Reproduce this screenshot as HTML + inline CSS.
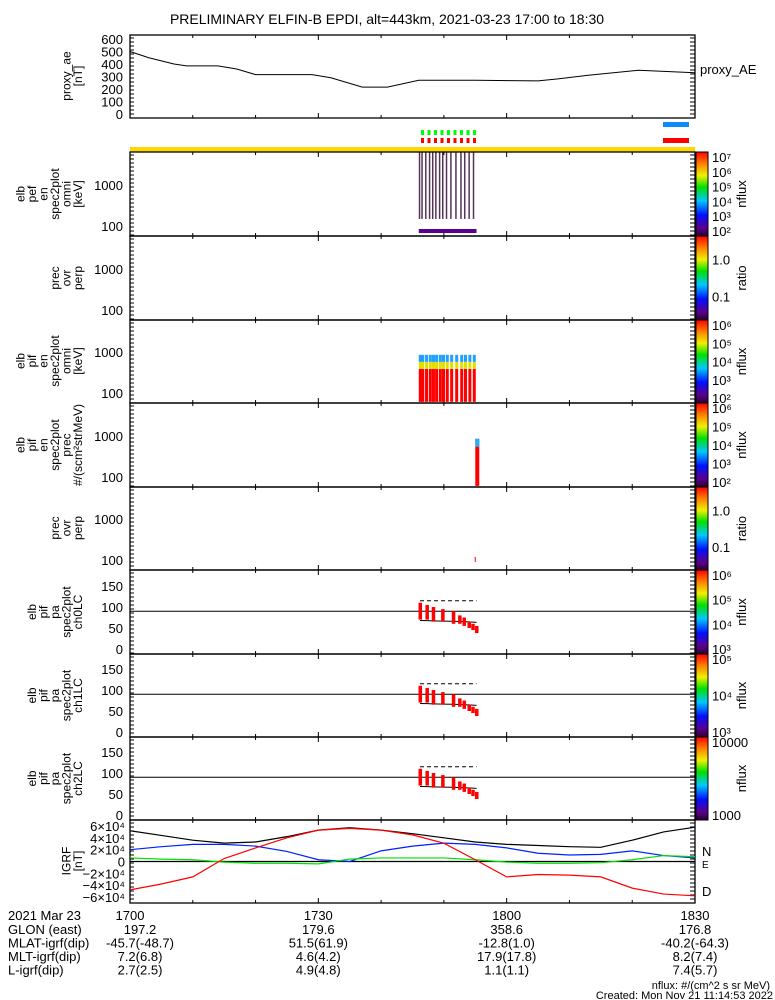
<!DOCTYPE html>
<html><head><meta charset="utf-8"><style>
body{margin:0;background:#fff}
svg{display:block;font-family:"Liberation Sans",sans-serif}
text{fill:#000}
</style></head><body>
<svg id="s" width="775" height="1000" viewBox="0 0 775 1000">
<defs>
<linearGradient id="rb" x1="0" y1="1" x2="0" y2="0">
<stop offset="0" stop-color="#2a0030"/><stop offset="0.1" stop-color="#5a0090"/><stop offset="0.25" stop-color="#0010ff"/><stop offset="0.42" stop-color="#00c8ff"/><stop offset="0.58" stop-color="#00e000"/><stop offset="0.72" stop-color="#f0f000"/><stop offset="0.86" stop-color="#ff8000"/><stop offset="1" stop-color="#ff0000"/>
</linearGradient>
</defs>
<text x="387" y="24" text-anchor="middle" font-size="14">PRELIMINARY ELFIN-B EPDI, alt=443km, 2021-03-23 17:00 to 18:30</text>
</svg>
<script>
const NS="http://www.w3.org/2000/svg";const S=document.getElementById('s');
function el(t,a,p){const e=document.createElementNS(NS,t);for(const k in a)e.setAttribute(k,a[k]);(p||S).appendChild(e);return e;}
function tx(x,y,s,a,p){const e=el('text',Object.assign({x:x,y:y,'font-size':13},a||{}),p);e.textContent=s;return e;}

// data
const aeTimes=[0,3,7,9,14,17,20,29,32,37,41,46,55,65,68,73,79,81,90];
const aeVals=[500,450,400,385,385,360,315,315,290,215,215,270,270,265,280,310,340,350,330];
const igrfTimes=[0,5,10,15,20,25,30,35,40,45,50,55,60,65,70,75,80,85,90];
const igrfBlack=[52000,44000,36000,31000,33000,42000,53000,57000,53000,47000,40000,33000,29000,27000,25000,24000,36000,50000,58000];
const igrfBlue=[20000,25000,29000,29000,26000,17000,3000,0,18000,26000,31000,29000,23000,14000,11000,12000,18000,10000,6000];
const igrfGreen=[6000,4000,3000,-1000,-3000,-3000,-4000,4000,6000,6000,6000,3000,-1000,-3000,-3000,-2000,3000,10000,8000];
const igrfRed=[-48000,-38000,-26000,5000,23000,40000,53000,56000,53000,45000,31000,3000,-26000,-22000,-23000,-26000,-45000,-55000,-58000];
const bottomTicks=['1700','1730','1800','1830'];
const paTimes=[46.2,47.3,48.3,49.8,51.5,52.5,53.2,54.0,54.6,55.2];
const paHigh=[110,105,100,95,90,80,75,65,60,55];
const paLow=[70,70,65,65,60,60,55,50,45,38];
const efBars=[46.0,46.4,47.0,47.6,48.1,48.6,49.2,49.7,50.3,51.0,51.8,52.6,53.2,53.9,54.6];

const X0=130,X1=695;const tX=t=>X0+t/90*(X1-X0);

function frame(y0,y1,name){
  el('rect',{x:X0,y:y0,width:X1-X0,height:y1-y0,fill:'none',stroke:'#000','stroke-width':1.3,});
  for(let t=0;t<=90;t+=10){const x=tX(t);const L=t%30==0?5:3;
    el('line',{x1:x,y1:y1,x2:x,y2:y1-L,stroke:'#000'});el('line',{x1:x,y1:y0,x2:x,y2:y0+L,stroke:'#000'});}
  for(let y=y0+3;y<y1;y+=4){el('line',{x1:X1,y1:y,x2:X1-5,y2:y,stroke:'#000'});el('line',{x1:X0,y1:y,x2:X0+4,y2:y,stroke:'#000'});}
}
function vlabel(lines,yc,name){const g=el('g',{});
  const n=lines.length;lines.forEach((s,i)=>{const x=82-(n-1-i)*11.5;tx(x,yc,s,{transform:`rotate(-90 ${x} ${yc})`,'text-anchor':'middle','font-size':12},g);});}
function cbar(y0,y1,labels,title,name){
  el('rect',{x:696,y:y0,width:12,height:y1-y0,fill:'url(#rb)',stroke:'#000',});
  labels.forEach((s,i)=>{const y=y0+6+i*(y1-y0-10)/(Math.max(labels.length-1,1));tx(712,y+4,s,{'font-size':13});});
  const yc=(y0+y1)/2;tx(746,yc,title,{transform:`rotate(-90 746 ${yc})`,'text-anchor':'middle','font-size':13});
}
// proxy AE
frame(35,118,'proxy-ae-panel');
const aeY=v=>114-v/600*75;
for(let v=0;v<=600;v+=100){tx(123,aeY(v)+5,String(v),{'text-anchor':'end'});}
el('polyline',{points:aeTimes.map((t,i)=>tX(t)+','+aeY(aeVals[i])).join(' '),fill:'none',stroke:'#000',});
vlabel(['proxy_ae','[nT]'],76,'proxy-ae-ylabel');
tx(700,74,'proxy_AE',{'font-size':13});
// flag bars
el('rect',{x:663,y:122,width:26,height:5,fill:'#0a8cff',});
el('rect',{x:663,y:138,width:26,height:5,fill:'#ff0000',});
for(let i=0;i<9;i++){el('rect',{x:421+i*6.5,y:130,width:3,height:5,fill:'#00ff00'});el('rect',{x:421+i*6.5,y:138,width:3,height:5,fill:'#ff0000'});}
el('rect',{x:130,y:147,width:565,height:5,fill:'#ffd700',});
// panels
const P=[[152,236],[236,320],[320,403],[403,487],[487,570],[570,654],[654,737],[737,820]];
P.forEach((p,i)=>frame(p[0],p[1],'panel-'+(i+1)));
[0,1,2,3,4].forEach(i=>{const b=P[i][1];tx(123,b-10+5,'100',{'text-anchor':'end'});tx(123,b-51+5,'1000',{'text-anchor':'end'});});
vlabel(['elb','pef','en','spec2plot','omni','[keV]'],194,'pef-en-ylabel');
vlabel(['prec','ovr','perp'],278,'pef-ratio-ylabel');
vlabel(['elb','pif','en','spec2plot','omni','[keV]'],361,'pif-en-ylabel');
vlabel(['elb','pif','en','spec2plot','prec','#/(scm²strMeV)'],445,'pif-prec-ylabel');
vlabel(['prec','ovr','perp'],528,'pif-ratio-ylabel');
['ch0LC','ch1LC','ch2LC'].forEach((c,i)=>{const b=P[5+i][1];const y=v=>b-5-v*0.42;
  [0,50,100,150].forEach(v=>tx(123,y(v)+5,String(v),{'text-anchor':'end'}));
  el('line',{x1:X0,x2:X1,y1:y(90),y2:y(90),stroke:'#000'});
  vlabel(['elb','pif','pa','spec2plot',c],(P[5+i][0]+b)/2,'pa-'+c+'-ylabel');
  el('polyline',{points:paTimes.map(t=>tX(t)+','+y(115)).join(' '),fill:'none',stroke:'#000','stroke-dasharray':'4,3'});
  el('polyline',{points:paTimes.map((t,j)=>tX(t)+','+y(68-j*0.5)).join(' '),fill:'none',stroke:'#000'});
  paTimes.forEach((t,j)=>{el('rect',{x:tX(t)-1.5,y:y(paHigh[j]),width:3.5,height:y(paLow[j])-y(paHigh[j]),fill:'#ff0000',});});
});
// pef spectrogram
const eY=(b,e)=>b-10-(Math.log10(e)-2)*40;
efBars.forEach(t=>{el('rect',{x:tX(t),y:eY(236,7000),width:1.5,height:eY(236,150)-eY(236,7000),fill:'#2a0030','opacity':0.8,});});
el('rect',{x:tX(46),y:229,width:tX(55.2)-tX(46),height:4,fill:'#5a0090'});
// pif
efBars.forEach(t=>{const x=tX(t);
  el('rect',{x:x,y:eY(403,400),width:3,height:eY(403,60)-eY(403,400),fill:'#ff0000'});
  el('rect',{x:x,y:eY(403,600),width:3,height:eY(403,400)-eY(403,600),fill:'#e0e000'});
  el('rect',{x:x,y:eY(403,900),width:3,height:eY(403,600)-eY(403,900),fill:'#20a0ff'});});
el('rect',{x:tX(55),y:eY(487,900),width:4,height:eY(487,60)-eY(487,900),fill:'#ff0000'});
el('rect',{x:tX(55),y:eY(487,900),width:4,height:8,fill:'#20b0ff'});
el('line',{x1:tX(55),x2:tX(55),y1:557,y2:562,stroke:'#ff0000'});
// colorbars
cbar(152,236,['10⁷','10⁶','10⁵','10⁴','10³','10²'],'nflux','pef-colorbar');
cbar(236,320,['','1.0','','0.1',''],'ratio','pef-ratio-colorbar');
cbar(320,403,['10⁶','10⁵','10⁴','10³','10²'],'nflux','pif-colorbar');
cbar(403,487,['10⁶','10⁵','10⁴','10³','10²'],'nflux','pif-prec-colorbar');
cbar(487,570,['','1.0','','0.1',''],'ratio','pif-ratio-colorbar');
cbar(570,654,['10⁶','10⁵','10⁴','10³'],'nflux','ch0-colorbar');
cbar(654,737,['10⁵','10⁴','10³'],'nflux','ch1-colorbar');
cbar(737,820,['10000','','1000'],'nflux','ch2-colorbar');
// IGRF
frame(820,903,'igrf-panel');
const gY=v=>861.5-v/60000*35.5;
[[60000,'6×10⁴'],[40000,'4×10⁴'],[20000,'2×10⁴'],[0,'0'],[-20000,'−2×10⁴'],[-40000,'−4×10⁴'],[-60000,'−6×10⁴']].forEach(a=>tx(125,gY(a[0])+5,a[1],{'text-anchor':'end'}));
el('line',{x1:X0,x2:X1,y1:gY(0),y2:gY(0),stroke:'#000','stroke-width':1.3});
[[igrfBlack,'#000','igrf-total'],[igrfBlue,'#0020ff','igrf-n'],[igrfGreen,'#00e000','igrf-e'],[igrfRed,'#ff0000','igrf-d']].forEach(s=>{
  el('polyline',{points:igrfTimes.map((t,i)=>tX(t)+','+gY(s[0][i])).join(' '),fill:'none',stroke:s[1],'stroke-width':1.2,});});
vlabel(['IGRF','[nT]'],861,'igrf-ylabel');
tx(702,856,'N',{fill:'#0020ff'});tx(702,896,'D',{fill:'#ff0000'});tx(702,868,'E',{fill:'#00e000','font-size':10});
// bottom
bottomTicks.forEach((s,i)=>tx(tX(i*30),920,s,{'text-anchor':'middle'}));
tx(8,920,'2021 Mar 23');
const rows=[['GLON (east)','197.2','179.6','358.6','176.8'],['MLAT-igrf(dip)','-45.7(-48.7)','51.5(61.9)','-12.8(1.0)','-40.2(-64.3)'],['MLT-igrf(dip)','7.2(6.8)','4.6(4.2)','17.9(17.8)','8.2(7.4)'],['L-igrf(dip)','2.7(2.5)','4.9(4.8)','1.1(1.1)','7.4(5.7)']];
rows.forEach((r,j)=>{const y=934+j*13.5;tx(8,y,r[0]);for(let i=0;i<4;i++)tx(i==0?tX(0)+10:tX(i*30),y,r[i+1],{'text-anchor':'middle'});});
tx(770,989,'nflux: #/(cm^2 s sr MeV)',{'text-anchor':'end','font-size':11});
tx(773,999,'Created: Mon Nov 21 11:14:53 2022',{'text-anchor':'end','font-size':11});
</script>
</body></html>
